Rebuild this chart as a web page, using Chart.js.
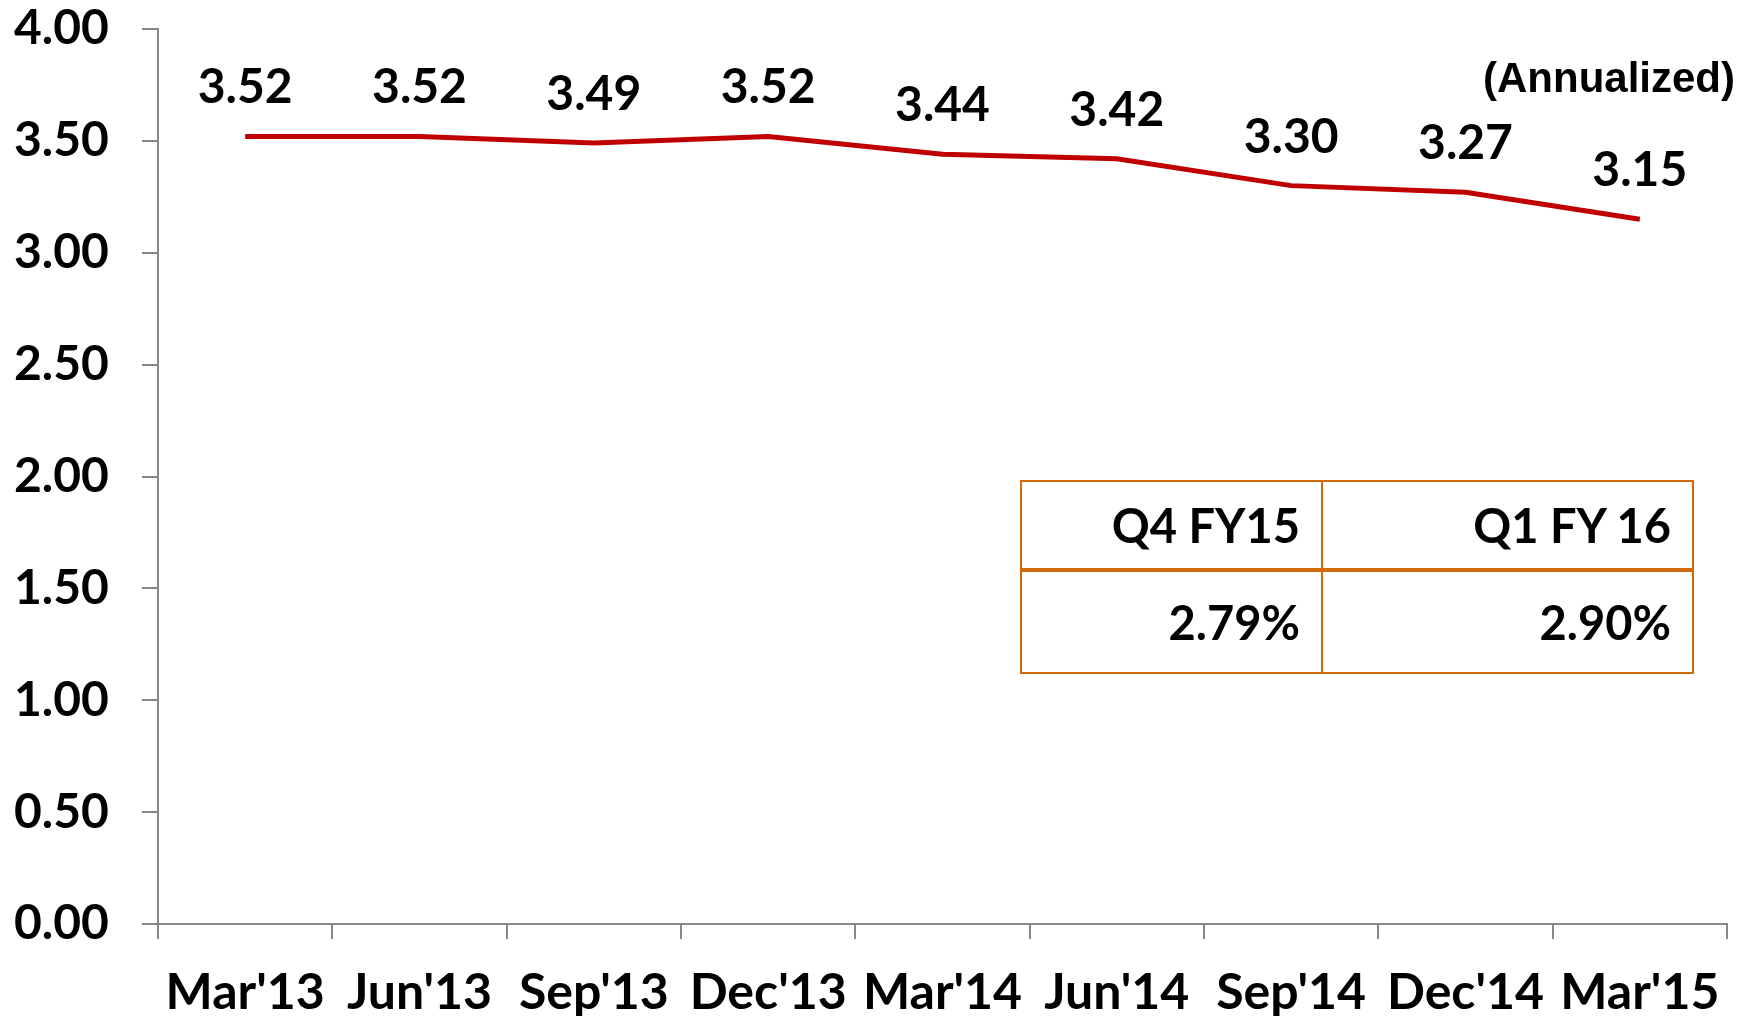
<!DOCTYPE html>
<html>
<head>
<meta charset="utf-8">
<script src="https://cdn.jsdelivr.net/npm/chart.js@4.4.1/dist/chart.umd.min.js"></script>
<style>
  html, body { margin: 0; padding: 0; background: #ffffff; }
  #wrap { position: relative; width: 1753px; height: 1016px; }
  #c { position: absolute; left: 0; top: 0; }
  #note { position: absolute; right: 18px; top: 54px; font: bold 42px "Liberation Sans", Arial, sans-serif; color: #000; white-space: nowrap; }
  #tbl { position: absolute; left: 1020px; top: 480px; border-collapse: collapse; font: bold 47px Lato, "Open Sans", sans-serif; color: #000; }
  #tbl td { border: 2px solid #D2690A; text-align: right; padding: 0 21px 0 0; box-sizing: border-box; }
  #tbl tr.h td { height: 89px; border-bottom: 4px solid #D2690A; }
  #tbl tr.v td { height: 103px; }
  #tbl td.c1 { width: 301px; }
  #tbl td.c2 { width: 371px; }
</style>
</head>
<body>
<div id="wrap">
  <canvas id="c" width="1753" height="1016"></canvas>
  <div id="note">(Annualized)</div>
  <table id="tbl"></table>
</div>
<script>
const categories = ["Mar'13", "Jun'13", "Sep'13", "Dec'13", "Mar'14", "Jun'14", "Sep'14", "Dec'14", "Mar'15"];
const values = [3.52, 3.52, 3.49, 3.52, 3.44, 3.42, 3.30, 3.27, 3.15];
const yTicks = [0, 0.5, 1, 1.5, 2, 2.5, 3, 3.5, 4];
const tableHeaders = ["Q4 FY15", "Q1 FY 16"];
const tableValues = ["2.79%", "2.90%"];

// table
const tbl = document.getElementById('tbl');
tbl.innerHTML = '<tr class="h">' + tableHeaders.map((h, i) => '<td class="c' + (i + 1) + '">' + h + '</td>').join('') + '</tr>' +
  '<tr class="v">' + tableValues.map((v, i) => '<td class="c' + (i + 1) + '">' + v + '</td>').join('') + '</tr>';

const labelPlugin = {
  id: 'valueLabels',
  afterDatasetsDraw(chart) {
    const ctx = chart.ctx;
    const meta = chart.getDatasetMeta(0);
    ctx.save();
    ctx.font = 'bold 48px Lato, "Open Sans", sans-serif';
    ctx.fillStyle = '#000';
    ctx.textAlign = 'center';
    ctx.textBaseline = 'alphabetic';
    meta.data.forEach((pt, i) => {
      ctx.fillText(values[i].toFixed(2), pt.x, pt.y - 33);
    });
    ctx.restore();
  }
};

const axisColor = '#878787';
new Chart(document.getElementById('c'), {
  type: 'line',
  data: {
    labels: categories,
    datasets: [{
      data: values,
      borderColor: '#C00000',
      borderWidth: 5,
      pointRadius: 0,
      tension: 0,
      fill: false
    }]
  },
  options: {
    responsive: false,
    animation: false,
    events: [],
    layout: { padding: { top: 29, right: 26, left: 14, bottom: 0 } },
    plugins: { legend: { display: false }, tooltip: { enabled: false } },
    scales: {
      x: {
        type: 'category',
        offset: true,
        grid: { display: true, drawOnChartArea: false, drawTicks: true, tickLength: 15, offset: true, color: axisColor, lineWidth: 2 },
        border: { display: true, color: axisColor, width: 2 },
        ticks: { color: '#000', font: { family: 'Lato, "Open Sans", sans-serif', weight: 'bold', size: 50 }, padding: 24, maxRotation: 0, autoSkip: false },
        afterFit(s) { s.height = 92; }
      },
      y: {
        min: 0, max: 4,
        afterBuildTicks(s) { s.ticks = yTicks.map(v => ({ value: v })); },
        grid: { display: true, drawOnChartArea: false, drawTicks: true, tickLength: 16, color: axisColor, lineWidth: 2 },
        border: { display: true, color: axisColor, width: 2 },
        ticks: { color: '#000', font: { family: 'Lato, "Open Sans", sans-serif', weight: 'bold', size: 48, lineHeight: 0.4 }, padding: 0, crossAlign: 'far', callback: v => Number(v).toFixed(2) },
        afterFit(s) { s.width = 144; }
      }
    }
  },
  plugins: [labelPlugin]
});
</script>
</body>
</html>
